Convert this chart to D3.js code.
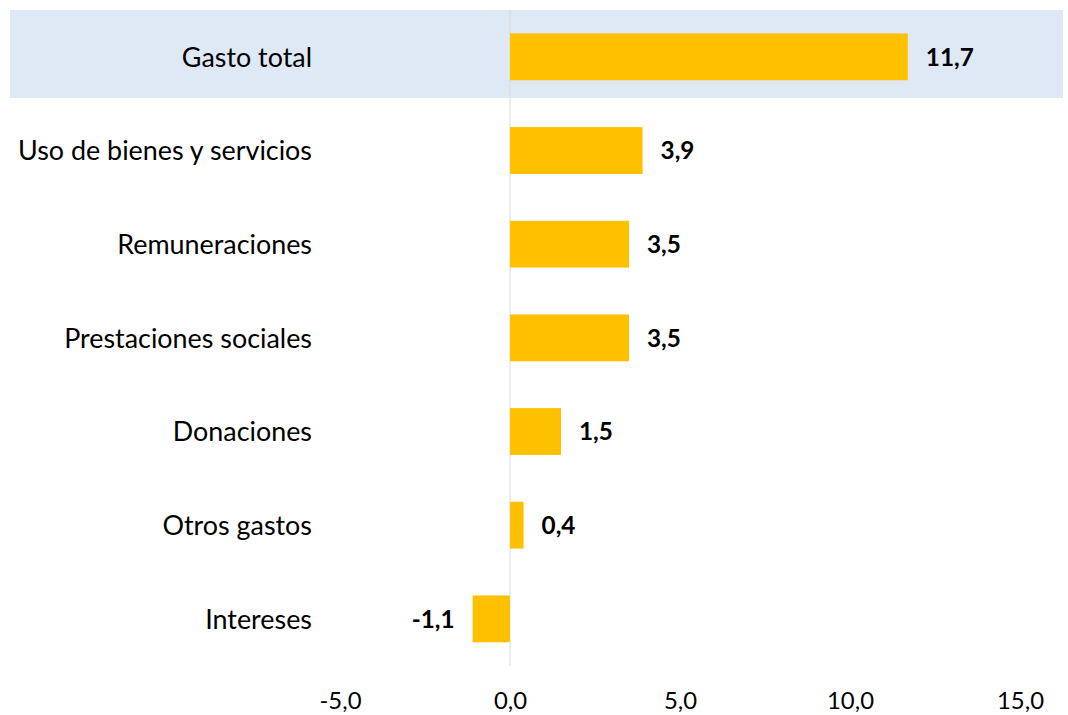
<!DOCTYPE html>
<html><head><meta charset="utf-8">
<script src="https://cdn.jsdelivr.net/npm/d3@7"></script>
<style>body{margin:0;background:#fff}svg{display:block}text{font-family:Lato,"Open Sans",sans-serif}</style>
</head><body><svg id="c" width="1068" height="715"></svg>
<script>
const categories = ["Gasto total","Uso de bienes y servicios","Remuneraciones","Prestaciones sociales","Donaciones","Otros gastos","Intereses"];
const values = [11.7,3.9,3.5,3.5,1.5,0.4,-1.1];
const tickValues = [-5,0,5,10,15];
const highlighted = "Gasto total";

const svg = d3.select("#c");
const x = d3.scaleLinear().domain([-5,15]).range([340,1020]);
const y = d3.scaleBand().domain(categories).range([10,665.7]).paddingInner(0.5).paddingOuter(0.25);
const fmt = v => d3.format(".1f")(v).replace(".",",").replace("−","-");

// fit a font size so a sample string matches a target width
function fitSize(sample, target, weight){
  const t = svg.append("text").attr("font-size",20).attr("font-weight",weight).text(sample);
  const w = t.node().getComputedTextLength(); t.remove();
  return 20*target/w;
}
const catSize = fitSize("Uso de bienes y servicios", 294, "normal");
const valSize = fitSize("11,7", 48, "bold");
const tickSize = fitSize("15,0", 47, "normal");

svg.append("rect").attr("x",10).attr("width",1053)
  .attr("y", y(highlighted) - y.step()*0.25).attr("height", y.step()*0.94)
  .attr("fill","#DEE9F5");

svg.append("line").attr("x1",x(0)).attr("x2",x(0)).attr("y1",10).attr("y2",665.7)
  .attr("stroke","#D9D9D9").attr("stroke-width",1);

svg.selectAll(".bar").data(categories).enter().append("rect")
  .attr("x",(d,i)=>x(Math.min(0,values[i])))
  .attr("width",(d,i)=>Math.abs(x(values[i])-x(0)))
  .attr("y",d=>y(d)).attr("height",y.bandwidth())
  .attr("fill","#FFC000");

svg.selectAll(".val").data(categories).enter().append("text")
  .attr("x",(d,i)=>values[i]>=0 ? x(values[i])+18 : x(values[i])-18)
  .attr("y",d=>y(d)+y.bandwidth()/2).attr("dy","0.36em")
  .attr("text-anchor",(d,i)=>values[i]>=0?"start":"end")
  .attr("font-weight","bold").attr("font-size",valSize).attr("fill","#000")
  .text((d,i)=>fmt(values[i]));

svg.selectAll(".cat").data(categories).enter().append("text")
  .attr("x",312).attr("y",d=>y(d)+y.bandwidth()/2).attr("dy","0.36em")
  .attr("text-anchor","end").attr("font-size",catSize).attr("fill","#000")
  .text(d=>d);

const ax = svg.append("g").attr("transform","translate(0,700)")
  .call(d3.axisBottom(x).tickValues(tickValues).tickSize(0).tickPadding(0).tickFormat(fmt));
ax.select(".domain").remove();
ax.selectAll("text").attr("font-size",tickSize).attr("fill","#000").attr("dy","0.36em")
  .style("font-family","Lato,'Open Sans',sans-serif");
</script></body></html>
